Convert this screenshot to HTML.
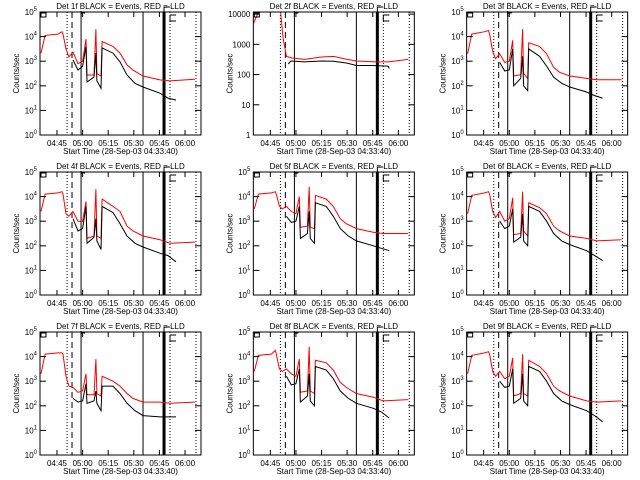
<!DOCTYPE html>
<html><head><meta charset="utf-8"><style>
html,body{margin:0;padding:0;background:#fff;}
#c{position:relative;width:640px;height:480px;overflow:hidden;}
svg{position:absolute;left:0;top:0;}
text{font-family:"Liberation Sans",sans-serif;font-size:8px;fill:#000;}
</style></head><body>
<div id="c">
<svg id="s" width="640" height="480"></svg>
</div>
<script>
// shared sample times, minutes since 04:30
const T_RED=[5.6,8.0,15.6,17.9,18.5,20.3,22.0,24.4,27.3,30.0,32.0,32.6,36.7,37.8,38.4,40.8,41.4,47.8,51.9,56.0,59.5,65.4,75.3,81.2,95.8];
const T_BLK=[24.4,27.3,30.0,32.0,32.6,36.7,37.8,38.4,40.8,41.4,47.8,51.9,56.0,60.7,65.4,75.3,80.0,84.7];
const T_RED2=[5.2,8.0,18.0,21.0,22.5,24.4,27.3,35.0,45.0,52.0,60.0,65.4,77.0,84.0,95.8];
const T_BLK2=[25.5,27.0,35.0,45.0,52.0,60.0,65.4,75.0,84.0,84.7];
const panelNames=["1f","2f","3f","4f","5f","6f","7f","8f","9f"];
// log10 counts/sec
const red1=[3.33,4.05,4.1,4.2,4.1,3.5,3.17,3.37,2.9,3.0,3.9,2.44,2.44,4.3,2.5,2.4,3.8,3.6,3.33,2.85,2.64,2.4,2.24,2.2,2.27];
const blk1=[3.05,2.64,2.8,3.6,2.16,2.35,3.33,2.2,1.9,3.54,3.33,2.97,2.44,2.1,1.95,1.7,1.5,1.42];
const red2=[3.7,4.07,4.07,4.07,3.2,2.6,2.55,2.5,2.58,2.6,2.5,2.45,2.42,2.42,2.5];
const blk2=[2.35,2.45,2.42,2.45,2.44,2.38,2.3,2.3,2.28,2.2];
const red3=[3.3,4.1,4.2,4.25,4.1,3.4,3.1,3.3,2.95,3.0,3.85,2.4,2.45,4.3,2.5,2.3,3.75,3.6,3.3,2.75,2.55,2.4,2.3,2.25,2.25];
const blk3=[2.95,2.6,2.65,3.5,2.0,2.3,3.2,2.0,1.8,3.5,3.2,2.8,2.35,2.1,1.95,1.75,1.6,1.5];
const red4=[3.4,4.1,4.15,4.2,4.1,3.3,3.2,3.4,3.0,3.0,3.8,2.3,2.4,4.3,2.4,2.3,3.9,3.6,3.4,2.8,2.6,2.4,2.25,2.1,2.15];
const blk4=[3.1,2.6,2.7,3.6,2.1,2.35,3.1,2.2,1.85,3.6,3.35,2.9,2.4,2.1,1.95,1.7,1.6,1.35];
const red5=[3.5,4.1,4.15,4.2,4.1,3.6,3.5,3.6,3.4,3.3,4.0,2.75,2.8,4.4,2.75,2.7,4.05,3.9,3.6,3.1,2.9,2.7,2.55,2.5,2.5];
const blk5=[3.2,2.95,3.0,3.6,2.3,2.5,3.4,2.3,2.1,3.75,3.6,3.2,2.7,2.4,2.2,2.0,1.9,1.8];
const red6=[3.3,4.05,4.15,4.2,4.1,3.4,3.15,3.4,3.0,3.1,3.95,2.45,2.5,4.2,2.6,2.4,3.75,3.55,3.3,2.8,2.6,2.4,2.3,2.2,2.25];
const blk6=[3.0,2.7,2.8,3.5,2.15,2.35,3.3,2.2,2.0,3.6,3.4,3.0,2.5,2.2,2.05,1.8,1.6,1.4];
const red7=[3.3,4.1,4.15,4.15,4.1,3.2,2.8,2.75,2.55,2.6,3.3,2.45,2.45,3.9,2.5,2.4,3.2,3.0,2.8,2.5,2.3,2.15,2.15,2.1,2.15];
const blk7=[2.3,2.15,2.2,2.9,2.1,2.2,2.6,2.1,1.8,2.8,2.8,2.5,2.1,1.8,1.6,1.55,1.55,1.55];
const red8=[3.4,4.05,4.1,4.25,4.1,3.5,3.4,3.5,3.3,3.2,3.9,2.55,2.6,4.4,2.6,2.5,3.85,3.75,3.45,2.95,2.75,2.5,2.35,2.2,2.25];
const blk8=[3.2,2.85,2.9,3.5,2.15,2.4,3.3,2.2,2.0,3.6,3.45,3.1,2.6,2.3,2.1,1.9,1.75,1.5];
const red9=[3.3,4.05,4.15,4.2,4.1,3.4,3.2,3.4,3.1,3.2,3.95,2.4,2.5,4.1,2.5,2.4,3.85,3.6,3.3,2.8,2.6,2.4,2.2,2.15,2.2];
const blk9=[3.0,2.75,2.8,3.5,2.1,2.3,3.3,2.2,2.0,3.6,3.4,3.0,2.5,2.2,2.05,1.8,1.6,1.35];
const redSeries=[red1,red2,red3,red4,red5,red6,red7,red8,red9];
const blkSeries=[blk1,blk2,blk3,blk4,blk5,blk6,blk7,blk8,blk9];
const xTicks=[15,30,45,60,75,90];
const xTickLabels=["04:45","05:00","05:15","05:30","05:45","06:00"];
const dottedLines=[20.9,81.2,96.4];
const dashedLines=[23.8];
const solidLines=[29.1,65.4];
const thickLines=[77.7];

const NS="http://www.w3.org/2000/svg";
const svg=document.getElementById('s');
function mk(tag,attrs,parent){const e=document.createElementNS(NS,tag);for(const k in attrs)e.setAttribute(k,attrs[k]);(parent||svg).appendChild(e);return e;}
const TMIN=5.04,TMAX=99.36;
for(let p=0;p<9;p++){
  const col=p%3,row=Math.floor(p/3);
  const ox=col*213.33,oy=row*160;
  const L=ox+40,R=ox+201,Tp=oy+12,B=oy+135;
  const g=mk('g',{});
  
  
  const ymax=(p===1)?4.07:5;
  const xs=t=>L+(t-TMIN)/(TMAX-TMIN)*(R-L);
  const ys=v=>B-(v/ymax)*(B-Tp);
  const vl=(arr,dash,w,name)=>arr.forEach(t=>{const l=mk('line',{x1:xs(t),x2:xs(t),y1:Tp,y2:B,stroke:'#000','stroke-width':w,'stroke-dasharray':dash},g);});
  vl(dottedLines,'1,2',1,'dotted-marker');
  vl(dashedLines,'6,4',1,'dashed-marker');
  vl(solidLines,'none',1,'solid-marker');
  vl(thickLines,'none',3,'thick-marker');
  const line=(T,V,color,name)=>{let d='';for(let i=0;i<T.length;i++){d+=(i?'L':'M')+xs(T[i]).toFixed(1)+' '+ys(Math.min(V[i],ymax)).toFixed(1);}const pa=mk('path',{d:d,fill:'none',stroke:color,'stroke-width':1},g);};
  line(p===1?T_RED2:T_RED,redSeries[p],'#ff0000','lld-series');
  line(p===1?T_BLK2:T_BLK,blkSeries[p],'#000','events-series');
  const box=mk('rect',{x:L,y:Tp,width:R-L,height:B-Tp,fill:'none',stroke:'#000','stroke-width':1},g);
  
  
  mk('rect',{x:L+1,y:Tp+1,width:5,height:4,fill:'none',stroke:'#000'},g);
  mk('path',{d:`M${xs(29.1)} ${Tp+5}V${Tp-1}M${xs(29.1)} ${Tp+1}h4M${xs(77.7)} ${Tp}V${Tp-5}h${xs(81.2)-xs(77.7)}M${xs(81.2)} ${Tp+3}V${Tp+9}M${xs(81.2)} ${Tp+3}h6M${xs(81.2)} ${Tp+9}h6`,fill:'none',stroke:'#000'},g);
  xTicks.forEach((t,i)=>{const x=xs(t);mk('line',{x1:x,x2:x,y1:B,y2:B-5,stroke:'#000'},g);mk('line',{x1:x,x2:x,y1:Tp,y2:Tp+5,stroke:'#000'},g);
    const tx=mk('text',{x:x,y:B+11,'text-anchor':'middle'},g);tx.textContent=xTickLabels[i];});
  for(let d=0;d<=Math.floor(ymax);d++){
    const y=ys(d);
    mk('line',{x1:L,x2:L+6,y1:y,y2:y,stroke:'#000'},g);mk('line',{x1:R,x2:R-6,y1:y,y2:y,stroke:'#000'},g);
    const tx=mk('text',{x:L-3,y:y+3,'text-anchor':'end'},g);
    
    
    if(p===1){tx.textContent=String(Math.pow(10,d));}
    else{tx.textContent='10';const sp=mk('tspan',{dy:-4,'font-size':'6px'},tx);sp.textContent=String(d);}
  }
  const ti=mk('text',{x:(L+R)/2,y:oy+9,'text-anchor':'middle','font-size':'10px'},g);
  ti.textContent='Det '+panelNames[p]+' BLACK = Events, RED = LLD';
  
  
  const xt=mk('text',{x:(L+R)/2,y:oy+154,'text-anchor':'middle','font-size':'10px'},g);
  xt.textContent='Start Time (28-Sep-03 04:33:40)';
  
  
  const yt=mk('text',{x:0,y:0,'text-anchor':'middle','font-size':'8px',transform:`translate(${ox+19},${(Tp+B)/2}) rotate(-90)`},g);
  yt.textContent='Counts/sec';
  
  
}
</script>
</body></html>
